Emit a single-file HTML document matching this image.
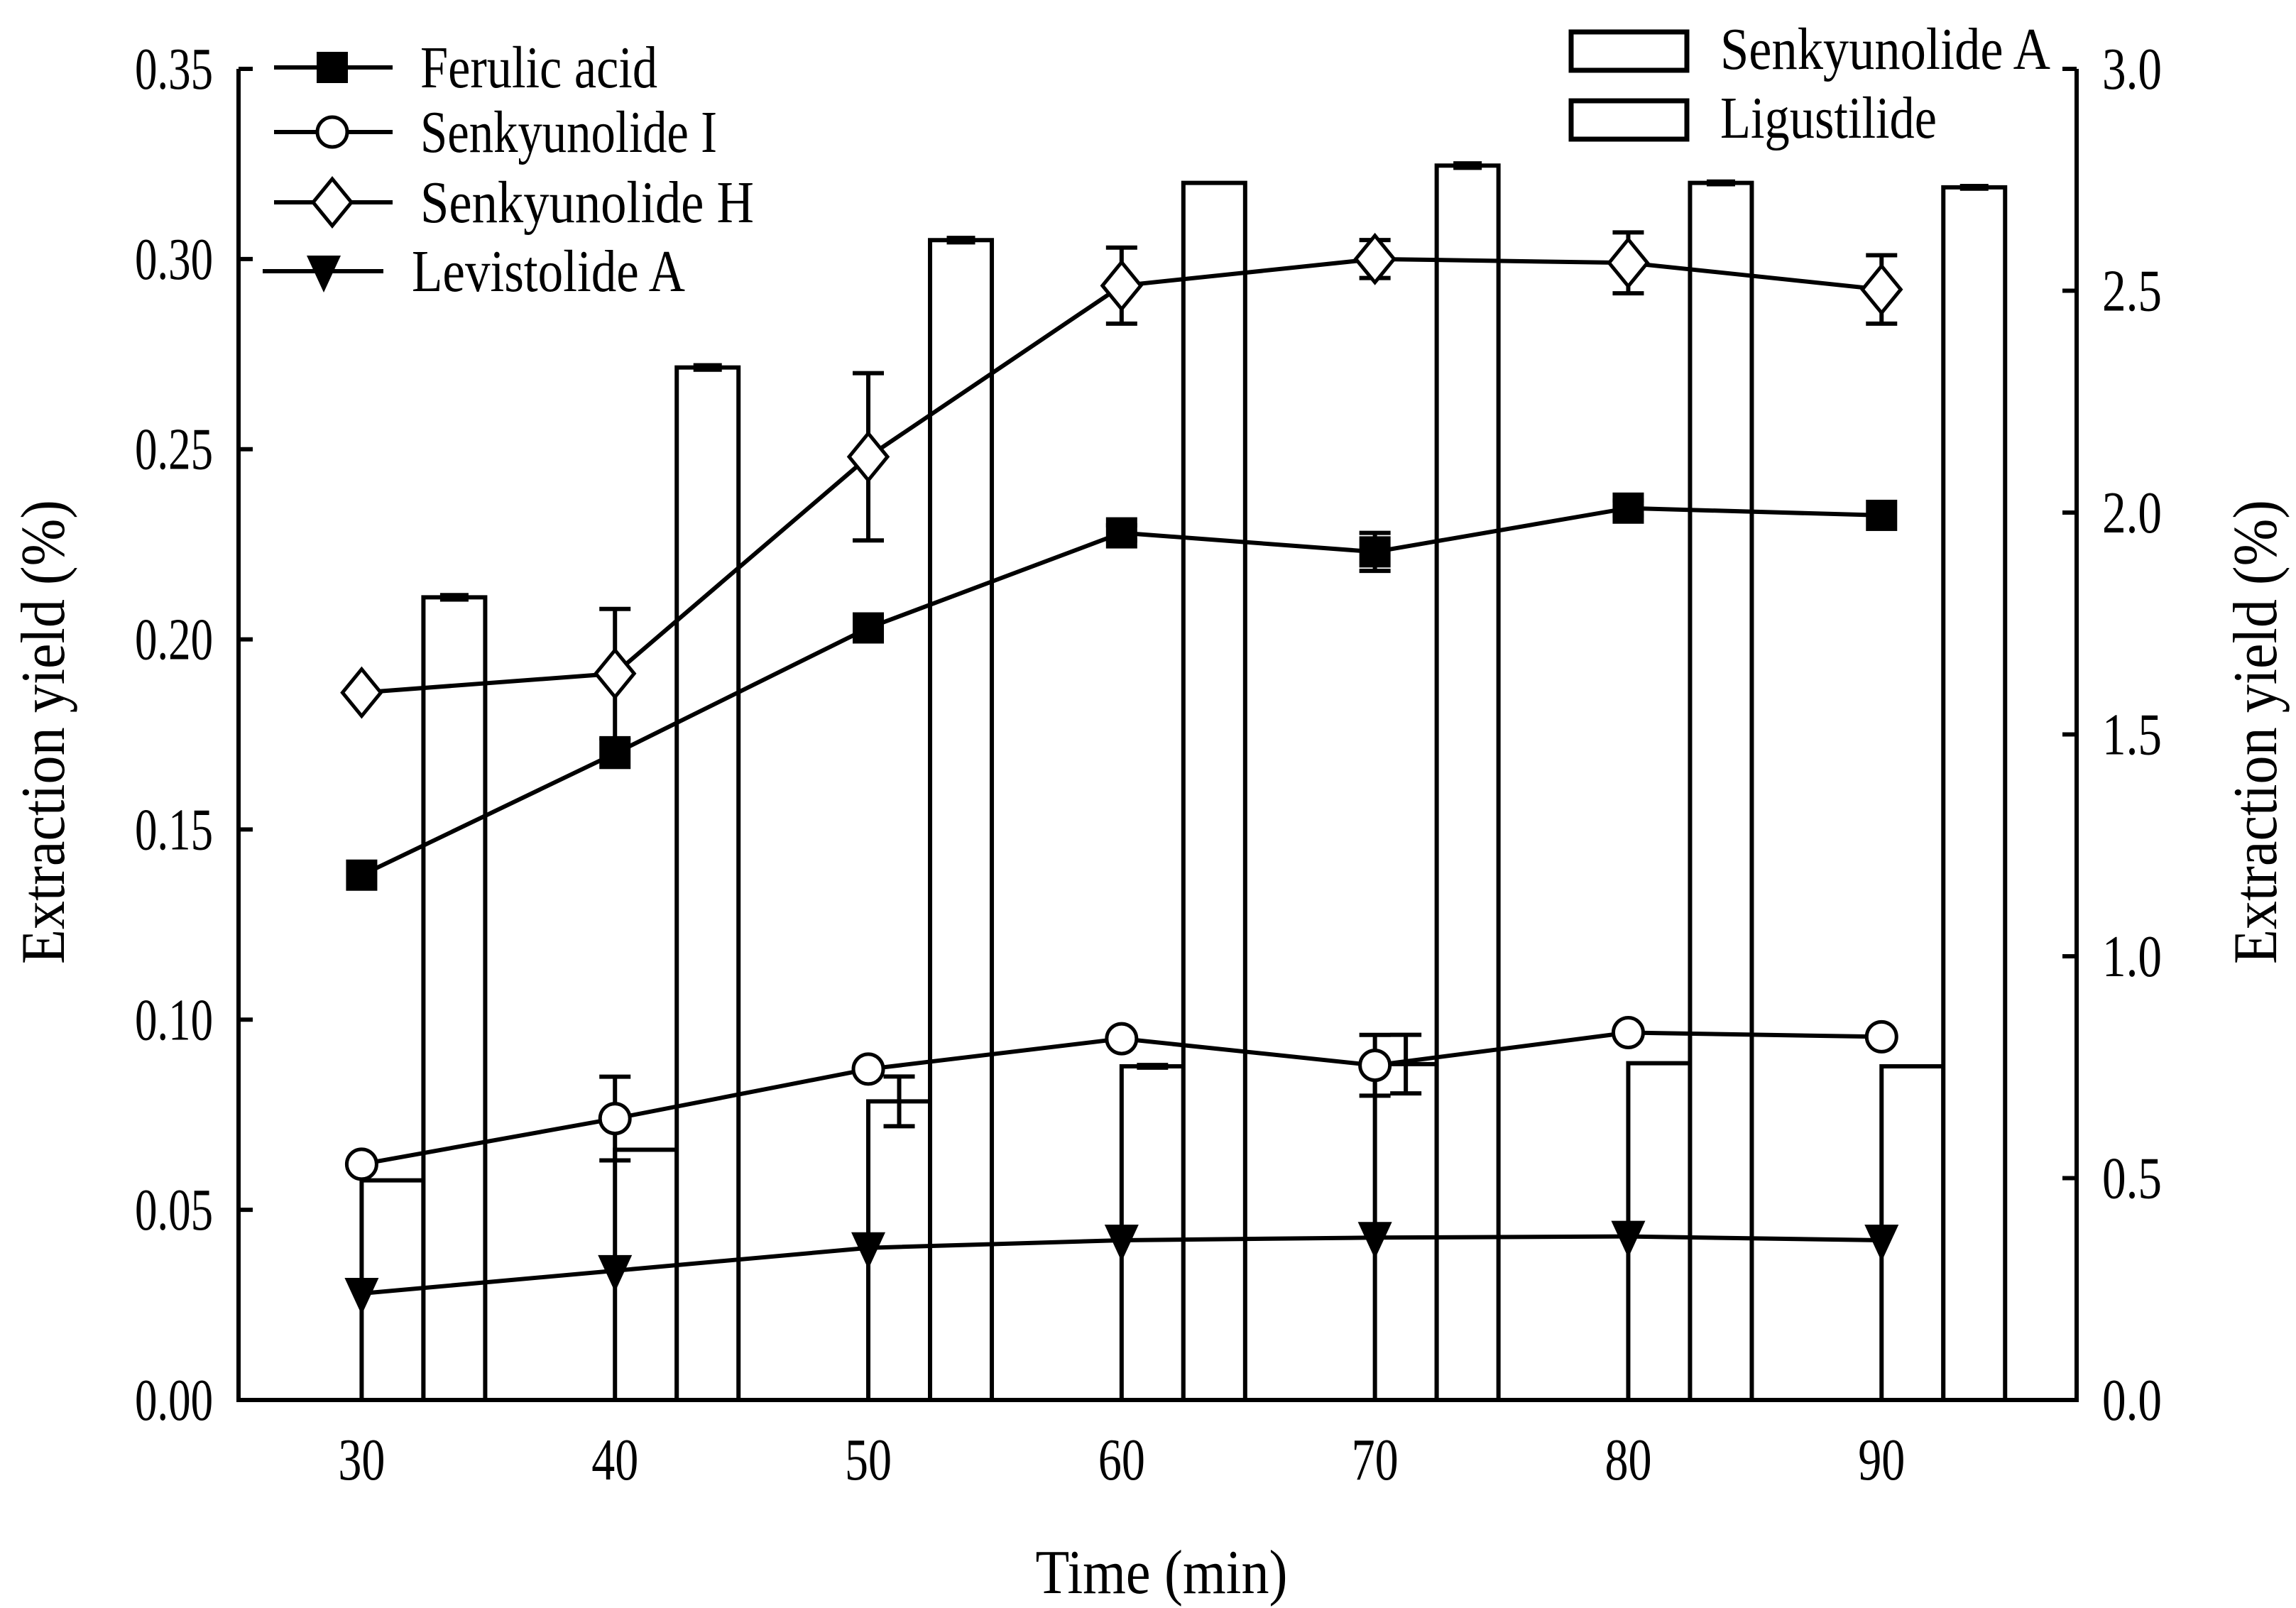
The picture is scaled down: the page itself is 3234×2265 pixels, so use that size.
<!DOCTYPE html>
<html><head><meta charset="utf-8"><style>
html,body{margin:0;padding:0;background:#fff;}
svg{display:block;font-family:"Liberation Serif","DejaVu Serif",serif;}
</style></head><body>
<svg id="chart" width="3234" height="2265" viewBox="0 0 3234 2265" xmlns="http://www.w3.org/2000/svg">
<g id="bars"></g>
<g id="lines"></g>
<g id="axes"></g>
<g id="legend"></g>
</svg>
<script>
const times = [30, 40, 50, 60, 70, 80, 90];
const xTickLabels = ["30", "40", "50", "60", "70", "80", "90"];
const leftTicks = [0, 0.05, 0.10, 0.15, 0.20, 0.25, 0.30, 0.35];
const leftTickLabels = ["0.00", "0.05", "0.10", "0.15", "0.20", "0.25", "0.30", "0.35"];
const rightTicks = [0, 0.5, 1.0, 1.5, 2.0, 2.5, 3.0];
const rightTickLabels = ["0.0", "0.5", "1.0", "1.5", "2.0", "2.5", "3.0"];
const ferulic = [0.138, 0.170, 0.203, 0.228, 0.223, 0.2345, 0.2326];
const ferulicErr = [0, 0, 0, 0.002, 0.005, 0.002, 0];
const senkI = [0.062, 0.074, 0.087, 0.095, 0.088, 0.0966, 0.0955];
const senkIErr = [0, 0.011, 0, 0, 0.008, 0, 0];
const senkH = [0.186, 0.191, 0.248, 0.293, 0.300, 0.299, 0.292];
const senkHErr = [0, 0.017, 0.022, 0.010, 0.005, 0.008, 0.009];
const levist = [0.028, 0.034, 0.040, 0.042, 0.0427, 0.043, 0.042];
const senkA = [0.495, 0.564, 0.673, 0.752, 0.757, 0.759, 0.752];
const senkAErr = [0, 0, 0.056, 0.003, 0.066, 0, 0];
const ligus = [1.809, 2.327, 2.614, 2.743, 2.782, 2.743, 2.733];
const ligusErr = [0.005, 0.005, 0.005, 0, 0.005, 0.003, 0.003];

const NS = "http://www.w3.org/2000/svg";
const X0 = 336, X1 = 2925, YT = 97, YB = 1972;
const xMin = 25.14, xMax = 97.7;
const xs = t => X0 + (t - xMin) / (xMax - xMin) * (X1 - X0);
const yL = v => YB - v / 0.35 * (YB - YT);
const yR = v => YB - v / 3.0 * (YB - YT);
const BW = 87, SW = 6;
function mk(tag, attrs, parent) { const e = document.createElementNS(NS, tag); for (const k in attrs) e.setAttribute(k, attrs[k]); parent.appendChild(e); return e; }
const gB = document.getElementById('bars'), gL = document.getElementById('lines'), gA = document.getElementById('axes'), gLeg = document.getElementById('legend');

function errBar(g, x, y0, y1, cap, name) {
  const e = mk('path', {d:`M${x-cap},${y0}H${x+cap}M${x},${y0}V${y1}M${x-cap},${y1}H${x+cap}`, stroke:'#000','stroke-width':SW, fill:'none'}, g);
  
  
}
times.forEach((t, i) => {
  const x = xs(t);
  const r1 = mk('rect', {x:x, y:yR(senkA[i]), width:BW, height:YB - yR(senkA[i]), fill:'#fff', stroke:'#000','stroke-width':SW}, gB);
  
  
  const r2 = mk('rect', {x:x + BW, y:yR(ligus[i]), width:BW, height:YB - yR(ligus[i]), fill:'#fff', stroke:'#000','stroke-width':SW}, gB);
  
  
  if (senkAErr[i] > 0) errBar(gB, x + BW/2, yR(senkA[i] + senkAErr[i]), yR(senkA[i] - senkAErr[i]), 22, 'error-senkyunolide-a-' + t);
  if (ligusErr[i] > 0) errBar(gB, x + BW*1.5, yR(ligus[i] + ligusErr[i]), yR(ligus[i] - ligusErr[i]), 20, 'error-ligustilide-' + t);
});

function marker(g, type, x, y, name) {
  let e;
  if (type === 'square') e = mk('rect', {x:x-22, y:y-22, width:44, height:44, fill:'#000'}, g);
  else if (type === 'circle') e = mk('circle', {cx:x, cy:y, r:21, fill:'#fff', stroke:'#000','stroke-width':5}, g);
  else if (type === 'diamond') e = mk('path', {d:`M${x},${y-33}L${x+27},${y}L${x},${y+33}L${x-27},${y}Z`, fill:'#fff', stroke:'#000','stroke-width':5}, g);
  else e = mk('path', {d:`M${x-24},${y-22}L${x+24},${y-22}L${x},${y+30}Z`, fill:'#000'}, g);
  
  
}
function series(vals, errs, type, key) {
  const g = mk('g', {}, gL);
  
  
  const pl = mk('polyline', {points: times.map((t, i) => xs(t) + ',' + yL(vals[i])).join(' '), fill:'none', stroke:'#000','stroke-width':6}, g);
  
  
  times.forEach((t, i) => {
    if (errs && errs[i] > 0) errBar(g, xs(t), yL(vals[i] + errs[i]), yL(vals[i] - errs[i]), 22, 'error-' + key + '-' + t);
    marker(g, type, xs(t), yL(vals[i]), 'point-' + key + '-' + t);
  });
}
series(levist, null, 'tri', 'levistolide-a');
series(senkI, senkIErr, 'circle', 'senkyunolide-i');
series(ferulic, ferulicErr, 'square', 'ferulic-acid');
series(senkH, senkHErr, 'diamond', 'senkyunolide-h');

const frame = mk('path', {d:`M${X0},${YT}V${YB}H${X1}V${YT}`, fill:'none', stroke:'#000','stroke-width':6}, gA);


function txt(g, s, x, y, anchor, size, name, len) {
  const e = mk('text', {x:x, y:y, 'text-anchor':anchor, 'font-size':size, fill:'#000'}, g);
  if (len) { e.setAttribute('textLength', len); e.setAttribute('lengthAdjust', 'spacingAndGlyphs'); }
  e.textContent = s;
  
  
  return e;
}
leftTicks.forEach((v, i) => {
  mk('line', {x1:X0, x2:X0+20, y1:yL(v), y2:yL(v), stroke:'#000','stroke-width':6}, gA);
  txt(gA, leftTickLabels[i], X0 - 36, yL(v) + 28, 'end', 84, 'left-tick-' + leftTickLabels[i], 110);
});
rightTicks.forEach((v, i) => {
  mk('line', {x1:X1-20, x2:X1, y1:yR(v), y2:yR(v), stroke:'#000','stroke-width':6}, gA);
  txt(gA, rightTickLabels[i], X1 + 36, yR(v) + 28, 'start', 84, 'right-tick-' + rightTickLabels[i], 84);
});
times.forEach((t, i) => {
  txt(gA, xTickLabels[i], xs(t), YB + 112, 'middle', 84, 'x-tick-' + xTickLabels[i], 66);
});
txt(gA, 'Time (min)', 1636, 2244, 'middle', 88, 'x-axis-title', 355);
const lt = txt(gA, 'Extraction yield (%)', 0, 0, 'middle', 88, 'left-y-axis-title', 654);
lt.setAttribute('transform', 'translate(90,1031) rotate(-90)');
const rt = txt(gA, 'Extraction yield (%)', 0, 0, 'middle', 88, 'right-y-axis-title', 654);
rt.setAttribute('transform', 'translate(3206,1031) rotate(-90)');

const legLines = [['Ferulic acid','square',95,592,334],['Senkyunolide I','circle',186,592,418],['Senkyunolide H','diamond',285,592,470],['Levistolide A','tri',382,580,385]];
legLines.forEach(([name, type, y, tx, tl]) => {
  const g = mk('g', {}, gLeg);
  
  
  mk('line', {x1:type==='tri'?370:386, x2:type==='tri'?540:553, y1:y, y2:y, stroke:'#000','stroke-width':6}, g);
  marker(g, type, type==='tri'?456:468, y, 'legend-marker');
  txt(g, name, tx, y + 28, 'start', 84, 'legend-label', tl);
});
[['Senkyunolide A',45,2423,465],['Ligustilide',142,2423,305]].forEach(([name, y, tx, tl]) => {
  const g = mk('g', {}, gLeg);
  
  
  const r = mk('rect', {x:2213, y:y, width:163, height:54, fill:'#fff', stroke:'#000','stroke-width':7}, g);
  
  
  txt(g, name, tx, y + 52, 'start', 84, 'legend-label', tl);
});
</script>
</body></html>
